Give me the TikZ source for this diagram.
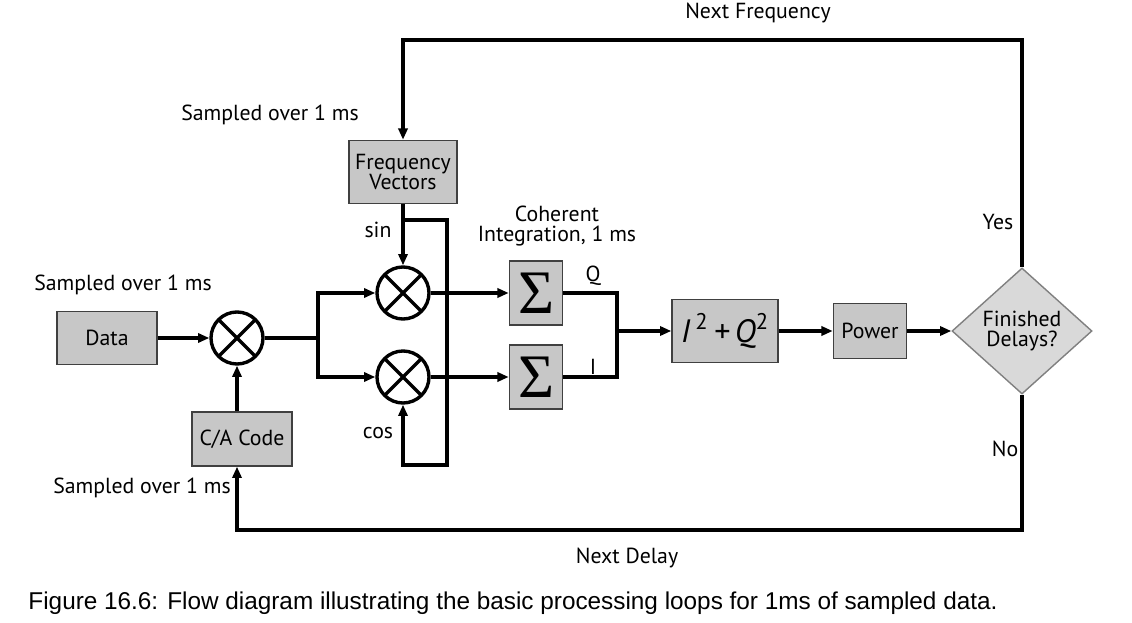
\documentclass[tikz,border=0pt]{standalone}
\usepackage{fontspec}
\setmainfont{Liberation Sans}
\newfontfamily\labelfont{PT Sans}
\newfontfamily\sigmafont{Liberation Serif}
\usetikzlibrary{shapes.geometric,arrows.meta}

\begin{document}
\begin{tikzpicture}
  [x=0.025cm,y=-0.025cm,line width=2.4pt,
   every node/.style={font=\labelfont\fontsize{15.5}{17}\selectfont,inner sep=1pt},
   block/.style={draw=black!75,line width=1pt,fill=black!22,rectangle,align=center},
   sumbox/.style={block,minimum width=1.33cm,minimum height=1.6cm,inner sep=0pt,font=\sigmafont\fontsize{44}{44}\selectfont},
   mixer/.style={draw,circle,minimum size=1.3cm,
     path picture={\draw[line width=2.4pt] (path picture bounding box.north west) -- (path picture bounding box.south east)
       (path picture bounding box.north east) -- (path picture bounding box.south west);}},
   arr/.style={-{Triangle[length=8pt,width=6.5pt]}}]
  \useasboundingbox (0,0) rectangle (1132,623);

  % blocks
  \node [block,minimum width=2.5cm,minimum height=1.33cm] (data) at (107,338) {Data};
  \node [block,minimum width=2.5cm,minimum height=1.35cm] (ca) at (242,439) {C/A Code};
  \node [block,minimum width=2.7cm,minimum height=1.58cm] (fv) at (403,172) {Frequency\\[-3pt]Vectors};
  \node [mixer] (mix) at (237,338) {};
  \node [mixer] (mixq) at (403,293) {};
  \node [mixer] (mixi) at (403,377) {};
  \node [sumbox] (sumq) at (536,293) {\raisebox{-2pt}{Σ}};
  \node [sumbox] (sumi) at (536,377) {\raisebox{-2pt}{Σ}};
  \node [block,minimum width=2.65cm,minimum height=1.58cm,font=\labelfont\itshape\fontsize{23}{23}\selectfont]
    (iq) at (725,331) {I\,\textsuperscript{\upshape 2}\,+\,Q\textsuperscript{\upshape 2}};
  \node [block,minimum width=1.83cm,minimum height=1.38cm] (pow) at (870,331) {Power};
  \node [diamond,draw=black!50,line width=1pt,fill=black!15,minimum width=3.5cm,minimum height=3.15cm,
    inner sep=0pt,align=center] (dec) at (1022,331) {Finished\\[-3pt]Delays?};

  % corners of the wiring
  \coordinate (split) at (318,338);
  \coordinate (tap) at (403,220);
  \coordinate (tapb) at (447,465);
  \coordinate (join) at (617,331);
  \coordinate (topr) at (1022,40);
  \coordinate (botr) at (1022,530);
  \coordinate (catop) at (ca.north -| mix);
  \coordinate (cabot) at (ca.south -| mix);

  \foreach \from/\to in {data/mix,catop/mix,fv/mixq,mixq/sumq,mixi/sumi,join/iq,iq/pow}
    \draw [arr] (\from) -- (\to);
  \draw [arr,line width=3.4pt] (pow) -- (dec);
  \draw (mix) -- (split);
  \draw [arr] (split) |- (mixq);
  \draw [arr] (split) |- (mixi);
  \draw [arr] (tap) -| (tapb) -| (mixi);
  \draw (sumq) -| (join);
  \draw (sumi) -| (join);
  \draw [arr] (dec) -- (topr) -| (fv);
  \draw [arr] (dec) -- (botr) -| (cabot);

  % labels
  \node (lnf) at (758,13) {Next Frequency};
  \node (lsf) at (270,115) {Sampled over 1 ms};
  \node (ldata) at (123,285) {Sampled over 1 ms};
  \node (lca) at (142,488) {Sampled over 1 ms};
  \node (lsin) at (378,230) {sin};
  \node (lcos) at (378,433) {cos};
  \node [align=center] (lcoh) at (557,226) {Coherent\\[-3pt]Integration, 1 ms};
  \node (lq) at (593,276) {Q};
  \node (li) at (593,367) {I};
  \node (lyes) at (998,222) {Yes};
  \node (lno) at (1005,449) {No};
  \node (lnd) at (627,558) {Next Delay};
  \node [font=\rmfamily\fontsize{17.3}{19}\selectfont] (cap) at (513,603)
    {Figure 16.6: Flow diagram illustrating the basic processing loops for 1ms of sampled data.};
\end{tikzpicture}
\end{document}
